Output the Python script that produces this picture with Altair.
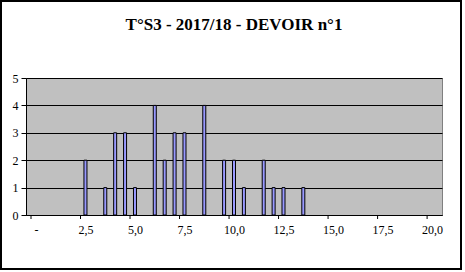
import altair as alt
import pandas as pd

# Notes (category value) and number of students
notes = [2.5, 3.5, 4.0, 4.5, 5.0, 6.0, 6.5, 7.0, 7.5, 8.5, 9.5, 10.0, 10.5, 11.5, 12.0, 12.5, 13.5]
effectifs = [2, 1, 3, 3, 1, 4, 2, 3, 3, 4, 2, 2, 1, 2, 1, 1, 1]
x_labels = [0, 2.5, 5.0, 7.5, 10.0, 12.5, 15.0, 17.5, 20.0]
tick_positions = [-0.25, 2.25, 4.75, 7.25, 9.75, 12.25, 14.75, 17.25, 19.75]
y_values = [0, 1, 2, 3, 4, 5]
title_text = "T°S3 - 2017/18 - DEVOIR n°1"

W, H = 416, 137
FONT = "Liberation Serif, Times New Roman, serif"

df = pd.DataFrame({"note": notes, "n": effectifs})
ticks_df = pd.DataFrame({"t": tick_positions})

xscale = alt.Scale(domain=[-0.25, 20.25], nice=False, zero=False)
yscale = alt.Scale(domain=[0, 5], nice=False)

bars = alt.Chart(df).mark_bar(
    size=3, color="#9999FF", stroke="black", strokeWidth=1
).encode(
    x=alt.X("note:Q", scale=xscale, title=None,
            axis=alt.Axis(values=x_labels, ticks=False, grid=False,
                          domainColor="black", domainWidth=1,
                          labelExpr="datum.value == 0 ? '-' : replace(format(datum.value, '.1f'), '.', ',')",
                          labelFont=FONT, labelFontSize=12, labelColor="black",
                          labelPadding=9, labelFlush=False, labelOverlap=False)),
    y=alt.Y("n:Q", scale=yscale, title=None,
            axis=alt.Axis(values=y_values, grid=True, gridColor="black", gridWidth=1,
                          ticks=True, tickSize=5, tickColor="black",
                          domainColor="black", domainWidth=1,
                          labelFont=FONT, labelFontSize=12, labelColor="black",
                          labelPadding=3)),
)

xticks = alt.Chart(ticks_df).mark_rule(color="black", strokeWidth=1).encode(
    x=alt.X("t:Q", scale=xscale),
    y=alt.value(H),
    y2=alt.value(H + 4),
)

title = alt.Chart(alt.Data(values=[{"t": title_text}])).mark_text(
    font=FONT, fontSize=17, fontWeight="bold", color="black",
    align="center", baseline="alphabetic"
).encode(
    text="t:N", x=alt.value(208), y=alt.value(-48)
)

frame = alt.Chart(alt.Data(values=[{}])).mark_rect(
    fill=None, stroke="black", strokeWidth=2
).encode(
    x=alt.value(-25), x2=alt.value(435), y=alt.value(-77), y2=alt.value(191)
)

chart = alt.layer(bars, xticks, title, frame).properties(
    width=W, height=H,
    autosize=alt.AutoSizeParams(type="none"),
    padding={"left": 26, "top": 78, "right": 23, "bottom": 57},
    background="white",
).configure_view(
    fill="#C0C0C0", stroke="#808080", strokeWidth=1
)

chart.save("out.html", embed_options={"renderer": "svg", "actions": False})
